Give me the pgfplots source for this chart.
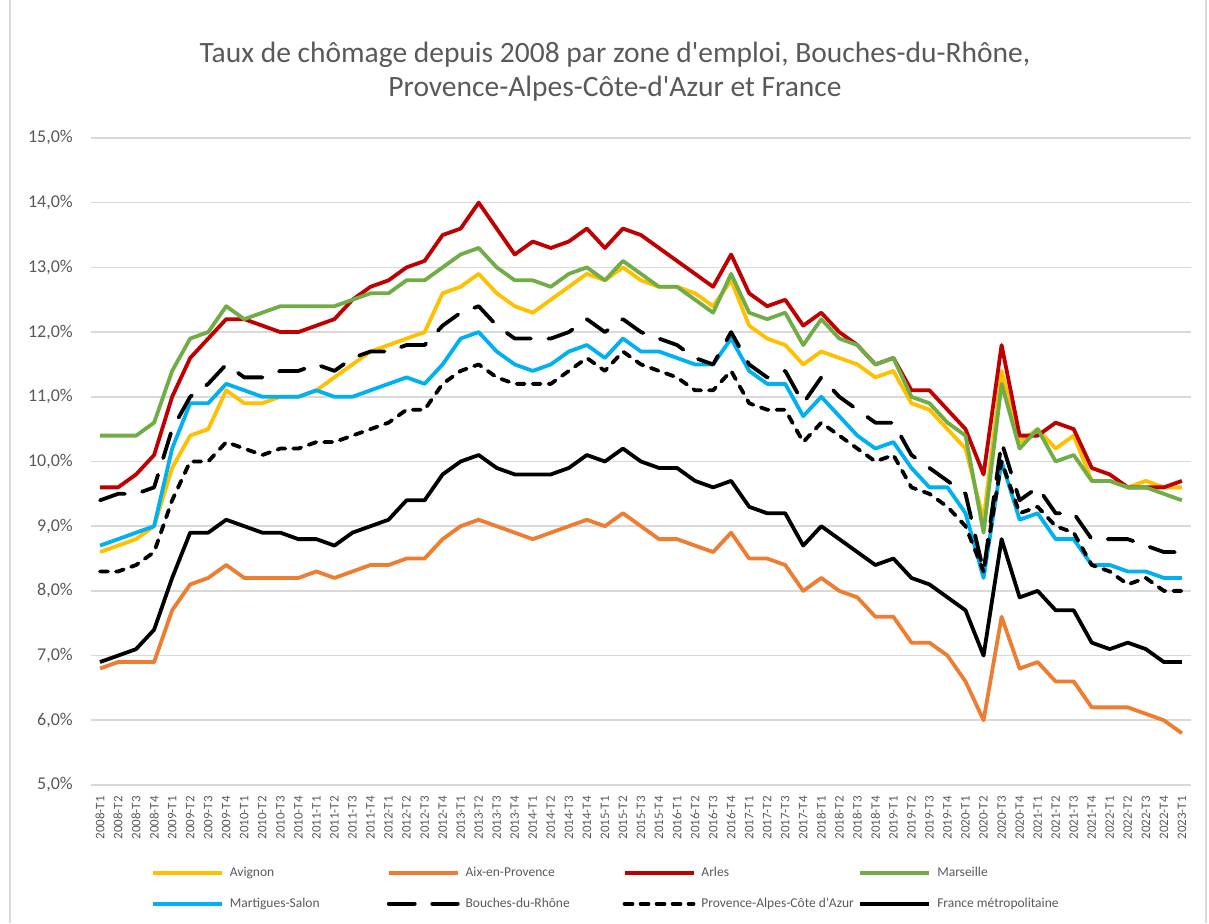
\documentclass[border=0pt]{standalone}
\usepackage{pgfplots}
\usepackage{pgfplotstable}
\pgfplotsset{compat=1.18}
\usepackage{fontspec}
\setmainfont{Carlito}
\definecolor{txt}{HTML}{595959}
\definecolor{gridc}{HTML}{D9D9D9}
\definecolor{cAvi}{HTML}{FFC000}
\definecolor{cAix}{HTML}{ED7D31}
\definecolor{cArl}{HTML}{C00000}
\definecolor{cMar}{HTML}{70AD47}
\definecolor{cMS}{HTML}{00B0F0}
\pgfplotstableread{
i Avi Aix Arl Mar MS BdR PACA Fr
0 8.6 6.8 9.6 10.4 8.7 9.4 8.3 6.9
1 8.7 6.9 9.6 10.4 8.8 9.5 8.3 7.0
2 8.8 6.9 9.8 10.4 8.9 9.5 8.4 7.1
3 9.0 6.9 10.1 10.6 9.0 9.6 8.6 7.4
4 9.9 7.7 11.0 11.4 10.2 10.5 9.4 8.2
5 10.4 8.1 11.6 11.9 10.9 11.0 10.0 8.9
6 10.5 8.2 11.9 12.0 10.9 11.2 10.0 8.9
7 11.1 8.4 12.2 12.4 11.2 11.5 10.3 9.1
8 10.9 8.2 12.2 12.2 11.1 11.3 10.2 9.0
9 10.9 8.2 12.1 12.3 11.0 11.3 10.1 8.9
10 11.0 8.2 12.0 12.4 11.0 11.4 10.2 8.9
11 11.0 8.2 12.0 12.4 11.0 11.4 10.2 8.8
12 11.1 8.3 12.1 12.4 11.1 11.5 10.3 8.8
13 11.3 8.2 12.2 12.4 11.0 11.4 10.3 8.7
14 11.5 8.3 12.5 12.5 11.0 11.6 10.4 8.9
15 11.7 8.4 12.7 12.6 11.1 11.7 10.5 9.0
16 11.8 8.4 12.8 12.6 11.2 11.7 10.6 9.1
17 11.9 8.5 13.0 12.8 11.3 11.8 10.8 9.4
18 12.0 8.5 13.1 12.8 11.2 11.8 10.8 9.4
19 12.6 8.8 13.5 13.0 11.5 12.1 11.2 9.8
20 12.7 9.0 13.6 13.2 11.9 12.3 11.4 10.0
21 12.9 9.1 14.0 13.3 12.0 12.4 11.5 10.1
22 12.6 9.0 13.6 13.0 11.7 12.1 11.3 9.9
23 12.4 8.9 13.2 12.8 11.5 11.9 11.2 9.8
24 12.3 8.8 13.4 12.8 11.4 11.9 11.2 9.8
25 12.5 8.9 13.3 12.7 11.5 11.9 11.2 9.8
26 12.7 9.0 13.4 12.9 11.7 12.0 11.4 9.9
27 12.9 9.1 13.6 13.0 11.8 12.2 11.6 10.1
28 12.8 9.0 13.3 12.8 11.6 12.0 11.4 10.0
29 13.0 9.2 13.6 13.1 11.9 12.2 11.7 10.2
30 12.8 9.0 13.5 12.9 11.7 12.0 11.5 10.0
31 12.7 8.8 13.3 12.7 11.7 11.9 11.4 9.9
32 12.7 8.8 13.1 12.7 11.6 11.8 11.3 9.9
33 12.6 8.7 12.9 12.5 11.5 11.6 11.1 9.7
34 12.4 8.6 12.7 12.3 11.5 11.5 11.1 9.6
35 12.8 8.9 13.2 12.9 11.9 12.0 11.4 9.7
36 12.1 8.5 12.6 12.3 11.4 11.5 10.9 9.3
37 11.9 8.5 12.4 12.2 11.2 11.3 10.8 9.2
38 11.8 8.4 12.5 12.3 11.2 11.4 10.8 9.2
39 11.5 8.0 12.1 11.8 10.7 10.9 10.3 8.7
40 11.7 8.2 12.3 12.2 11.0 11.3 10.6 9.0
41 11.6 8.0 12.0 11.9 10.7 11.0 10.4 8.8
42 11.5 7.9 11.8 11.8 10.4 10.8 10.2 8.6
43 11.3 7.6 11.5 11.5 10.2 10.6 10.0 8.4
44 11.4 7.6 11.6 11.6 10.3 10.6 10.1 8.5
45 10.9 7.2 11.1 11.0 9.9 10.1 9.6 8.2
46 10.8 7.2 11.1 10.9 9.6 9.9 9.5 8.1
47 10.5 7.0 10.8 10.6 9.6 9.7 9.3 7.9
48 10.2 6.6 10.5 10.4 9.2 9.5 9.0 7.7
49 9.1 6.0 9.8 8.9 8.2 8.3 8.3 7.0
50 11.4 7.6 11.8 11.2 10.0 10.3 10.0 8.8
51 10.3 6.8 10.4 10.2 9.1 9.4 9.2 7.9
52 10.5 6.9 10.4 10.5 9.2 9.6 9.3 8.0
53 10.2 6.6 10.6 10.0 8.8 9.2 9.0 7.7
54 10.4 6.6 10.5 10.1 8.8 9.2 8.9 7.7
55 9.7 6.2 9.9 9.7 8.4 8.8 8.4 7.2
56 9.7 6.2 9.8 9.7 8.4 8.8 8.3 7.1
57 9.6 6.2 9.6 9.6 8.3 8.8 8.1 7.2
58 9.7 6.1 9.6 9.6 8.3 8.7 8.2 7.1
59 9.6 6.0 9.6 9.5 8.2 8.6 8.0 6.9
60 9.6 5.8 9.7 9.4 8.2 8.6 8.0 6.9
}\data
\begin{document}
\begin{tikzpicture}[x=1pt,y=1pt]
\useasboundingbox (0,0) rectangle (1209,923);
\draw[gridc, line width=1.5pt] (10,0) -- (10,923);
\draw[gridc, line width=1.5pt] (1206,0) -- (1206,923);
\node[anchor=base, text=txt, font=\fontsize{29.5}{34}\selectfont] at (615,860) {Taux de chômage depuis 2008 par zone d\textquotesingle emploi, Bouches-du-Rhône,};
\node[anchor=base, text=txt, font=\fontsize{29.5}{34}\selectfont] at (615,826) {Provence-Alpes-Côte-d\textquotesingle Azur et France};
\begin{axis}[
  at={(91pt,138pt)}, anchor=south west,
  scale only axis, width=1100pt, height=647pt,
  xmin=-0.5, xmax=60.5, ymin=5, ymax=15,
  axis line style={draw=none},
  major tick length=0pt,
  ymajorgrids, grid style={gridc, line width=1.6pt},
  ytick={5,6,...,15},
  yticklabels={{5,0\%},{6,0\%},{7,0\%},{8,0\%},{9,0\%},{10,0\%},{11,0\%},{12,0\%},{13,0\%},{14,0\%},{15,0\%}},
  yticklabel style={text=txt, font=\fontsize{18}{20}\selectfont, inner sep=0pt, anchor=east},
  yticklabel shift=18pt,
  xtick={0,...,60},
  xticklabels={2008-T1,2008-T2,2008-T3,2008-T4,2009-T1,2009-T2,2009-T3,2009-T4,2010-T1,2010-T2,2010-T3,2010-T4,2011-T1,2011-T2,2011-T3,2011-T4,2012-T1,2012-T2,2012-T3,2012-T4,2013-T1,2013-T2,2013-T3,2013-T4,2014-T1,2014-T2,2014-T3,2014-T4,2015-T1,2015-T2,2015-T3,2015-T4,2016-T1,2016-T2,2016-T3,2016-T4,2017-T1,2017-T2,2017-T3,2017-T4,2018-T1,2018-T2,2018-T3,2018-T4,2019-T1,2019-T2,2019-T3,2019-T4,2020-T1,2020-T2,2020-T3,2020-T4,2021-T1,2021-T2,2021-T3,2021-T4,2022-T1,2022-T2,2022-T3,2022-T4,2023-T1},
  xticklabel style={text=txt, font=\fontsize{13}{15}\selectfont, rotate=90, anchor=east, inner sep=0pt},
  xticklabel shift=11pt,
  line join=round,
  legend columns=4,
  legend cell align=left,
  legend image code/.code={\draw[#1] (0pt,0pt) -- (69pt,0pt);},
  legend style={at={(rel axis cs:0.0546,-0.1244)}, anchor=north west,
    draw=none, fill=none, inner sep=0pt, outer sep=0pt,
    row sep=16pt, column sep=0pt,
    font=\fontsize{13.5}{15}\selectfont, text=txt,
    /tikz/every odd column/.style={column sep=4pt}},
]
\addplot[cAvi, line width=3.8pt] table[x=i,y=Avi] {\data};
\addlegendentry{\makebox[155pt][l]{Avignon}}
\addplot[cAix, line width=3.8pt] table[x=i,y=Aix] {\data};
\addlegendentry{\makebox[155pt][l]{Aix-en-Provence}}
\addplot[cArl, line width=3.8pt] table[x=i,y=Arl] {\data};
\addlegendentry{\makebox[155pt][l]{Arles}}
\addplot[cMar, line width=3.8pt] table[x=i,y=Mar] {\data};
\addlegendentry{Marseille}
\addplot[cMS, line width=3.8pt] table[x=i,y=MS] {\data};
\addlegendentry{\makebox[155pt][l]{Martigues-Salon}}
\addplot[black, line width=3.8pt, line cap=round, dash pattern=on 26pt off 17.5pt] table[x=i,y=BdR] {\data};
\addlegendentry{\makebox[155pt][l]{Bouches-du-Rhône}}
\addplot[black, line width=3.8pt, line cap=round, dash pattern=on 8pt off 8pt] table[x=i,y=PACA] {\data};
\addlegendentry{\makebox[155pt][l]{Provence-Alpes-Côte d\textquotesingle Azur}}
\addplot[black, line width=3.8pt] table[x=i,y=Fr] {\data};
\addlegendentry{France métropolitaine}
\end{axis}
\end{tikzpicture}
\end{document}
